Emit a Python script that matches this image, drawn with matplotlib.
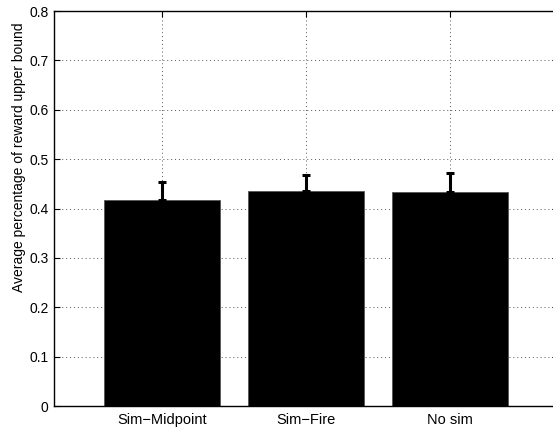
import matplotlib
matplotlib.use("Agg")
import matplotlib.pyplot as plt
import numpy as np

plt.rcParams['font.family'] = ['Liberation Sans', 'DejaVu Sans']

conditions = ["Sim\u2212Midpoint", "Sim\u2212Fire", "No sim"]
mean_reward = [0.417, 0.436, 0.434]
upper_err = [0.036, 0.032, 0.038]
yticks = [0, 0.1, 0.2, 0.3, 0.4, 0.5, 0.6, 0.7, 0.8]

fig = plt.figure(figsize=(5.53, 4.29), dpi=100)
ax = fig.add_axes([0.0976, 0.0536, 0.911, 0.9207])

x = np.arange(1, len(conditions) + 1)
ax.bar(x, mean_reward, width=0.81, color="black", edgecolor="#555555",
       linewidth=0.6, zorder=2)
ax.errorbar(x, mean_reward, yerr=[np.zeros(len(x)), upper_err], fmt="none",
            ecolor="black", elinewidth=2.2, capsize=3, capthick=2.2, zorder=3)

ax.set_xlim(0.25, 3.75)
ax.set_ylim(0, 0.8)
ax.set_xticks(x)
ax.set_xticklabels(conditions, fontsize=10.5)
ax.set_yticks(yticks)
ax.set_yticklabels([("%g" % t) for t in yticks], fontsize=10)
ax.tick_params(direction="in", length=4, width=0.8, top=True, right=True)
ax.tick_params(axis="x", pad=5)
ax.tick_params(axis="y", pad=4)
ax.grid(True, linestyle=(0, (1, 3)), color="#555555", linewidth=0.7, zorder=1)
ax.set_axisbelow(True)
for s in ax.spines.values():
    s.set_linewidth(1.0)
ax.set_ylabel("Average percentage of reward upper bound", fontsize=10)
ax.yaxis.set_label_coords(-0.055, 0.63)

fig.savefig("out.png", dpi=100)
